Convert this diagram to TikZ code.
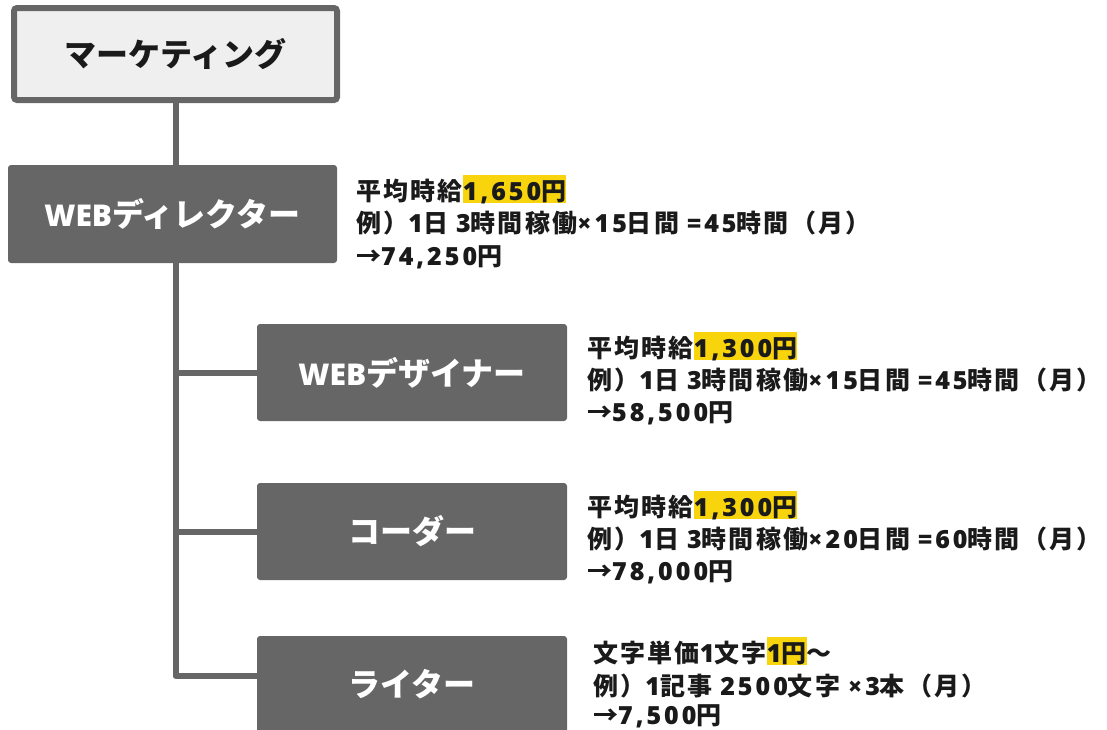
\documentclass[tikz,border=0pt]{standalone}
\usepackage{fontspec}
\setmainfont{Noto Sans CJK JP}
\IfFontExistsTF{Noto Sans Bold}{\newfontfamily\latf{Noto Sans Bold}}{%
  \IfFontExistsTF{Open Sans Bold}{\newfontfamily\latf{Open Sans Bold}}{%
    \newfontfamily\latf{Noto Sans}[FakeBold=2.5]}}
\definecolor{boxgray}{HTML}{666666}
\definecolor{lightfill}{HTML}{EFEFEF}
\definecolor{hl}{HTML}{F8D40C}
\definecolor{ink}{HTML}{1A1A1A}
\newcommand{\lt}[1]{{\fontsize{25}{25}\latf\addfontfeature{LetterSpace=12}#1}}
\newcommand{\ltb}[1]{{\fontsize{30}{30}\latf #1}}
\newcommand{\hlt}[1]{{\setlength{\fboxsep}{0pt}\colorbox{hl}{\rule[-3pt]{0pt}{28pt}#1}}}
\tikzset{
  topbox/.style={draw=boxgray, line width=6pt, fill=lightfill, rounded corners=3pt,
    minimum width=323pt, minimum height=92pt, inner sep=0pt,
    font=\fontsize{32}{32}\selectfont\bfseries, text=ink},
  rolebox/.style={fill=boxgray, rounded corners=3pt, inner sep=0pt,
    font=\fontsize{32}{32}\selectfont\bfseries, text=white},
  desc/.style={anchor=base west, inner sep=0pt, text=ink,
    font=\fontsize{25}{25}\selectfont\bfseries\addfontfeature{LetterSpace=9}},
  conn/.style={draw=boxgray, line width=6pt, line join=round}
}
\begin{document}
\begin{tikzpicture}[x=1pt,y=-1pt]
\useasboundingbox (0,0) rectangle (1107,729);
% boxes
\node[topbox] (mk) at (175.5,54) {マーケティング};
\node[rolebox, minimum width=329pt, minimum height=98pt] (dir) at (172.5,214) {\ltb{WEB}ディレクター};
\node[rolebox, minimum width=310pt, minimum height=97pt] (dg) at (412,372.5) {\ltb{WEB}デザイナー};
\node[rolebox, minimum width=310pt, minimum height=97pt] (cd) at (412,531.5) {コーダー};
\node[rolebox, minimum width=310pt, minimum height=97pt] (wr) at (412,684.5) {ライター};
% connectors
\coordinate (spend) at (175.5,676);
\draw[conn] (mk.south) -- (mk.south |- dir.north);
\draw[conn] (spend |- dir.south) -- (spend) -- (wr.west |- spend);
\draw[conn] (spend |- dg.west) -- (dg.west);
\draw[conn] (spend |- cd.west) -- (cd.west);
% descriptions
\node[desc] (d1) at (356,200) {平均時給\hlt{\lt{1,650}円}};
\node[desc] (d2) at (356,232.5) {例）\lt{1}日 \lt{3}時間稼働\lt{×15}日間 \lt{=45}時間（月）};
\node[desc] (d3) at (356,265) {→\lt{74,250}円};
\node[desc] (g1) at (587,357) {平均時給\hlt{\lt{1,300}円}};
\node[desc] (g2) at (587,389) {例）\lt{1}日 \lt{3}時間稼働\lt{×15}日間 \lt{=45}時間（月）};
\node[desc] (g3) at (587,421) {→\lt{58,500}円};
\node[desc] (c1) at (587,516) {平均時給\hlt{\lt{1,300}円}};
\node[desc] (c2) at (587,548) {例）\lt{1}日 \lt{3}時間稼働\lt{×20}日間 \lt{=60}時間（月）};
\node[desc] (c3) at (587,580) {→\lt{78,000}円};
\node[desc] (w1) at (593,662) {文字単価\lt{1}文字\hlt{\lt{1}円}〜};
\node[desc] (w2) at (593,695) {例）\lt{1}記事 \lt{2500}文字 \lt{×3}本（月）};
\node[desc] (w3) at (593,724) {→\lt{7,500}円};
\end{tikzpicture}
\end{document}
